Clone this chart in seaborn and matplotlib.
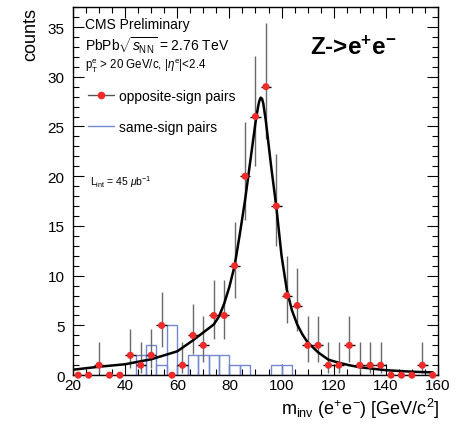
import matplotlib
matplotlib.use("Agg")
import matplotlib.pyplot as plt
import numpy as np
import pandas as pd
import seaborn as sns
from matplotlib.lines import Line2D
from matplotlib.ticker import MultipleLocator

# bin centres of the invariant-mass histogram (4 GeV bins, 20-160)
mass_bins = [22, 26, 30, 34, 38, 42, 46, 50, 54, 58,
             62, 66, 70, 74, 78, 82, 86, 90, 94, 98,
             102, 106, 110, 114, 118, 122, 126, 130, 134, 138,
             142, 146, 150, 154, 158]
os_counts = [0, 0, 1, 0, 0, 2, 1, 2, 5, 0,
             1, 4, 3, 6, 6, 11, 20, 26, 29, 17,
             8, 7, 3, 3, 1, 1, 3, 1, 1, 1,
             0, 0, 0, 1, 0]
# lower / upper ends of the vertical error bars
os_low = [0, 0, 0.17, 0, 0, 0.71, 0.17, 0.71, 2.84, 0,
          0.17, 2.09, 1.37, 3.62, 3.62, 7.8, 15.6, 21.0, 23.7, 13.0,
          5.23, 4.42, 1.37, 1.37, 0.17, 0.17, 1.37, 0.17, 0.17, 0.17,
          0, 0, 0, 0.17, 0]
os_high = [0, 0, 3.30, 0, 0, 4.64, 3.30, 4.64, 8.38, 0,
           3.30, 7.16, 5.92, 9.58, 9.58, 15.4, 25.5, 32.1, 35.4, 22.2,
           11.95, 10.77, 5.92, 5.92, 3.30, 3.30, 5.92, 3.30, 3.30, 3.30,
           0, 0, 0, 3.30, 0]
ss_counts = [0, 0, 0, 0, 0, 0, 2, 3, 1, 5,
             1, 2, 2, 2, 2, 1, 1, 0, 0, 1,
             1, 0, 0, 0, 0, 0, 0, 0, 0, 0,
             0, 0, 0, 0, 0]

# fitted line shape
fit_mass = [20, 30, 40, 50, 60, 66, 70, 74, 76, 78, 80, 82, 84, 86, 88, 90,
            91, 91.5, 92, 92.5, 93, 94, 96, 98, 100, 102, 104, 106, 108, 110,
            114, 118, 122, 126, 130, 140, 150, 158]
fit_counts = [0.55, 0.85, 1.1, 1.6, 2.4, 3.5, 4.3, 5.1, 5.9, 7.2, 8.9, 11.0, 14.2, 17.6, 21.5, 25.4,
              27.0, 27.6, 27.9, 27.8, 27.3, 25.5, 21.0, 16.9, 12.0, 8.6, 6.5, 5.1, 4.1, 3.3,
              2.3, 1.55, 1.25, 1.0, 0.8, 0.5, 0.35, 0.28]

sns.set_theme(style="ticks")
plt.rcParams["font.family"] = ["Liberation Sans", "DejaVu Sans"]
plt.rcParams["mathtext.fontset"] = "custom"
plt.rcParams["mathtext.rm"] = "Liberation Sans"
plt.rcParams["mathtext.it"] = "Liberation Sans:italic"
plt.rcParams["mathtext.bf"] = "Liberation Sans:bold"
plt.rcParams["text.color"] = "black"
plt.rcParams["axes.labelcolor"] = "black"
plt.rcParams["xtick.labelcolor"] = "black"
plt.rcParams["ytick.labelcolor"] = "black"

hist = pd.DataFrame({"mass": mass_bins, "same_sign": ss_counts})

fig = plt.figure(figsize=(4.62, 4.27), dpi=100)
ax = fig.add_axes([0.158, 0.119, 0.790, 0.862])

sns.histplot(data=hist, x="mass", weights="same_sign", binwidth=4, binrange=(20, 160),
             element="bars", fill=False, color="#7488d2", linewidth=1.0, ax=ax)

mass = np.array(mass_bins, dtype=float)
cnt = np.array(os_counts, dtype=float)
lo = cnt - np.array(os_low)
hi = np.array(os_high) - cnt
nz = cnt > 0
ax.errorbar(mass[nz], cnt[nz], yerr=[lo[nz], hi[nz]], fmt="none", ecolor="#6a6a6a",
            elinewidth=1.0, capsize=0)
ax.errorbar(mass[nz], cnt[nz], xerr=2, fmt="none", ecolor="black", elinewidth=1.0, capsize=0)

sns.lineplot(x=fit_mass, y=fit_counts, color="black", linewidth=1.8, ax=ax)
sns.scatterplot(x=mass_bins, y=os_counts, color="#ee2a2a", s=26, edgecolor="none",
                zorder=5, clip_on=False, ax=ax)

ax.set_xlim(20, 160)
ax.set_ylim(0, 37)
ax.xaxis.set_major_locator(MultipleLocator(20))
ax.xaxis.set_minor_locator(MultipleLocator(5))
ax.yaxis.set_major_locator(MultipleLocator(5))
ax.yaxis.set_minor_locator(MultipleLocator(1))
ax.tick_params(which="both", direction="in", top=True, right=True, width=0.8,
               labelsize=11, color="black", labelcolor="black")
ax.tick_params(which="major", length=8)
ax.tick_params(which="minor", length=4)
ax.tick_params(axis="x", pad=2.0)
ax.tick_params(axis="y", pad=6)
for s in ax.spines.values():
    s.set_linewidth(1.0)
    s.set_color("black")

ax.set_xlabel(r"m$_{\rm inv}$ (e$^{+}$e$^{-}$) [GeV/c$^{2}$]", fontsize=13, ha="right")
ax.xaxis.set_label_coords(1.005, -0.055)
ax.set_ylabel("counts", fontsize=13, ha="right")
ax.yaxis.set_label_coords(-0.093, 1.0)

ax.text(0.033, 0.954, "CMS Preliminary", transform=ax.transAxes, fontsize=10, va="center")
ax.text(0.033, 0.897, r"PbPb$\sqrt{s_{\rm NN}}$ = 2.76 TeV", transform=ax.transAxes,
        fontsize=10, va="center")
ax.text(0.033, 0.842, r"p$_{\rm T}^{\rm e}$ > 20 GeV/c, |$\eta^{\rm e}$|<2.4",
        transform=ax.transAxes, fontsize=8.3, va="center")
ax.text(0.047, 0.527, r"L$_{\rm int}$ = 45 $\mu$b$^{-1}$", transform=ax.transAxes,
        fontsize=7.5, va="center")
ax.text(0.649, 0.891, r"Z->e$^{\mathbf{+}}$e$^{\mathbf{-}}$", transform=ax.transAxes,
        fontsize=17.5, fontweight="bold", va="center")

handles = [
    Line2D([], [], color="#555555", lw=1.0, marker="o", markersize=4.5,
           markerfacecolor="#ee2a2a", markeredgecolor="#ee2a2a"),
    Line2D([], [], color="#7488d2", lw=1.0),
]
ax.legend(handles, ["opposite-sign pairs", "same-sign pairs"], loc="upper left",
          bbox_to_anchor=(0.041, 0.777), frameon=False, borderaxespad=0, borderpad=0,
          handlelength=1.9, handletextpad=0.3, labelspacing=1.2, fontsize=10)

fig.savefig("out.png", dpi=100)
